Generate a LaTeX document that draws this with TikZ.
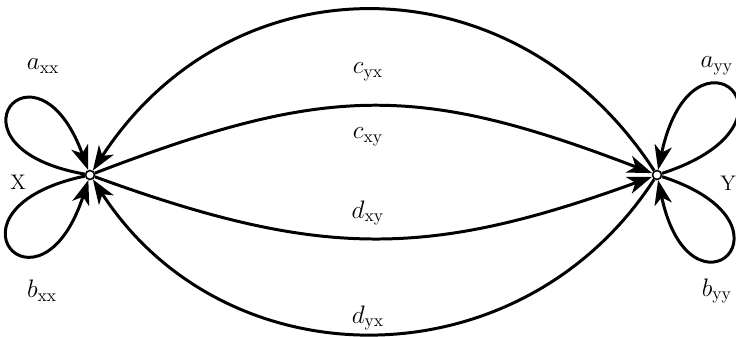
\documentclass[tikz,border=0pt]{standalone}
\usetikzlibrary{arrows.meta}

\begin{document}
\begin{tikzpicture}[
    every node/.style={font=\large},
    vertex/.style={
      circle, draw, fill=white, line width=0.9pt,
      inner sep=0pt, minimum size=0.18cm,
    },
    flow/.style={
      -{Stealth[length=14pt, width=10pt, inset=4pt]}, line width=1.7pt,
    },
    coef/.style={inner sep=1pt, font=\Large},
  ]
  \useasboundingbox (0,0) rectangle (14.72,6.72);

  \node[vertex] (X) at (1.80,3.22) {};
  \node[vertex] (Y) at (13.14,3.22) {};
  \node (nx) at (0.36,3.08) {X};
  \node (ny) at (14.56,3.06) {Y};

  % loops
  \draw[flow] (X) .. controls +(170:3.15) and +(110:3.15) .. (X);
  \draw[flow] (X) .. controls +(192:3.25) and +(252:3.25) .. (X);
  \draw[flow] (Y) .. controls +(18:3.4) and +(78:3.4) .. (Y);
  \draw[flow] (Y) .. controls +(-18:3.2) and +(-78:3.2) .. (Y);

  % arcs between X and Y
  \draw[flow] (Y) .. controls +(123:5.2) and +(57:5.2) .. (X);
  \draw[flow] (X) .. controls +(21:5.1) and +(159:5.1) .. (Y);
  \draw[flow] (X) .. controls +(-20:4.9) and +(200:4.9) .. (Y);
  \draw[flow] (Y) .. controls +(237:5.0) and +(303:5.0) .. (X);

  \node[coef] (axx) at (0.86,5.40) {$a_{\mathrm{xx}}$};
  \node[coef] (bxx) at (0.84,0.90) {$b_{\mathrm{xx}}$};
  \node[coef] (ayy) at (14.34,5.40) {$a_{\mathrm{yy}}$};
  \node[coef] (byy) at (14.34,0.90) {$b_{\mathrm{yy}}$};
  \node[coef] (cyx) at (7.36,5.28) {$c_{\mathrm{yx}}$};
  \node[coef] (cxy) at (7.36,3.98) {$c_{\mathrm{xy}}$};
  \node[coef] (dxy) at (7.36,2.46) {$d_{\mathrm{xy}}$};
  \node[coef] (dyx) at (7.36,0.36) {$d_{\mathrm{yx}}$};
\end{tikzpicture}
\end{document}
